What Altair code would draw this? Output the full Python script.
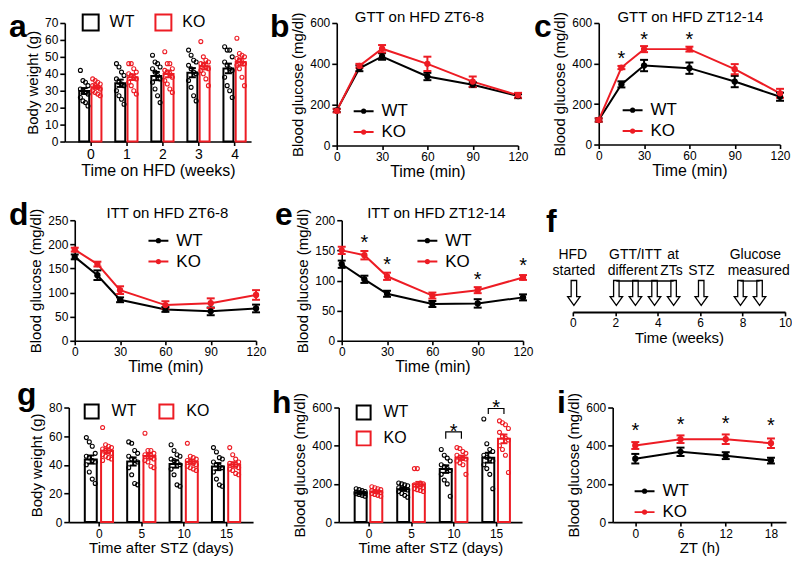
import altair as alt
import pandas as pd

FONT = "Liberation Sans"
RED = "#ed1c24"
GROUPS = ["WT", "KO"]
CAP = "M-1,0L1,0"
ARROW = "M-0.22,-1L0.22,-1L0.22,0.3L0.5,0.3L0,1L-0.5,0.3L-0.22,0.3Z"
LINE_SYMBOL = "M-1,0L1,0M-0.16,0A0.16,0.16,0,1,1,0.16,0A0.16,0.16,0,1,1,-0.16,0Z"

# ---------------- data ----------------
# a: body weight on HFD (g)
a_weeks = [0, 1, 2, 3, 4]
a_wt = [
    [42, 36, 35, 33, 31, 30, 29, 28, 26, 24, 23, 21],
    [46, 44, 41, 39, 37, 35, 34, 33, 30, 27, 25, 22],
    [51, 47, 46, 44, 43, 41, 39, 37, 35, 31, 27, 23],
    [54, 51, 48, 47, 45, 43, 41, 40, 36, 32, 27, 24],
    [56, 54, 54, 50, 47, 45, 43, 42, 38, 33, 30, 26],
]
a_ko = [
    [37, 36, 35, 34, 33, 33, 32, 31, 30, 29, 28, 27],
    [46, 46, 43, 41, 40, 39, 38, 37, 35, 33, 30, 28],
    [53, 46, 46, 43, 42, 41, 40, 38, 36, 34, 31, 29],
    [59, 50, 48, 47, 46, 45, 44, 43, 42, 40, 37, 33],
    [61, 52, 51, 50, 49, 48, 47, 46, 45, 43, 38, 33],
]

# b, c: GTT
gtt_time = [0, 15, 30, 60, 90, 120]
b_wt = [172, 378, 436, 338, 298, 242]
b_wt_se = [8, 14, 16, 18, 12, 10]
b_ko = [170, 390, 474, 400, 313, 246]
b_ko_se = [8, 10, 18, 35, 25, 12]

c_wt = [121, 297, 390, 377, 311, 236]
c_wt_se = [8, 15, 28, 28, 28, 20]
c_ko = [121, 380, 471, 471, 372, 253]
c_ko_se = [8, 8, 15, 12, 25, 22]
c_star_t = [15, 30, 60]
c_star_y = [423, 514, 514]

# d, e: ITT
itt_time = [0, 15, 30, 60, 90, 120]
d_wt = [174, 136, 85, 65, 61, 67]
d_wt_se = [5, 10, 5, 5, 8, 8]
d_ko = [189, 159, 105, 74, 78, 95]
d_ko_se = [4, 5, 8, 8, 10, 10]

e_wt = [127, 102, 78, 61, 62, 72]
e_wt_se = [6, 6, 5, 5, 7, 5]
e_ko = [150, 142, 107, 75, 84, 105]
e_ko_se = [6, 7, 6, 5, 5, 4]
e_star_t = [15, 30, 90, 120]
e_star_y = [162, 125, 100, 124]

# f: timeline (weeks)
f_arrow_weeks = [0.05, 2.05, 2.95, 3.85, 4.75, 6.05, 7.9, 8.8]
f_bracket_start = [2.05, 7.9]
f_bracket_end = [4.75, 8.8]
f_text = ["HFD", "started", "GTT/ITT", "at", "different", "ZTs", "STZ", "Glucose", "measured"]
f_text_week = [0.0, 0.05, 2.95, 4.72, 2.82, 4.65, 6.06, 8.6, 8.76]
f_text_line = [1, 2, 1, 1, 2, 2, 2, 1, 2]

# g: body weight after STZ (g)
stz_days = [0, 5, 10, 15]
g_wt = [
    [59, 56, 53, 48, 46, 45, 43, 42, 40, 35, 30, 27],
    [56, 55, 50, 48, 46, 44, 43, 42, 38, 33, 27, 26],
    [54, 50, 47, 46, 44, 43, 42, 40, 37, 33, 26, 25],
    [52, 49, 45, 44, 42, 40, 39, 38, 35, 30, 26, 25],
]
g_ko = [
    [66, 54, 53, 52, 51, 50, 49, 48, 47, 46, 45, 44, 43],
    [62, 50, 50, 48, 47, 46, 45, 44, 43, 42, 39, 38],
    [55, 46, 45, 44, 43, 42, 41, 40, 39, 38, 37, 36],
    [52, 47, 44, 42, 41, 40, 39, 38, 37, 36, 34, 33],
]

# h: blood glucose after STZ (mg/dl)
h_wt = [
    [175, 170, 165, 160, 158, 155, 152, 150, 148, 145, 140, 135],
    [205, 200, 195, 190, 180, 175, 172, 168, 160, 150, 140, 130],
    [380, 350, 335, 320, 300, 290, 280, 270, 250, 220, 200, 135],
    [540, 410, 380, 370, 350, 340, 330, 320, 300, 280, 250, 175],
]
h_ko = [
    [185, 180, 175, 170, 165, 160, 158, 155, 150, 145, 140, 135],
    [280, 280, 205, 200, 195, 190, 185, 180, 175, 170, 165, 160],
    [390, 385, 370, 360, 350, 340, 335, 330, 320, 310, 300, 250],
    [530, 520, 510, 490, 470, 450, 440, 430, 400, 380, 350, 260],
]
h_sig_day = [10, 15]
h_sig_top = [472, 595]
h_sig_bottom = [437, 566]
h_star_y = [470, 597]

# i: blood glucose across ZT
zt = [0, 6, 12, 18]
i_wt = [332, 368, 348, 322]
i_wt_se = [25, 22, 18, 15]
i_ko = [401, 434, 434, 413]
i_ko_se = [18, 20, 25, 25]
i_star_y = [476, 506, 514, 501]

cscale = alt.Scale(domain=GROUPS, range=["black", RED])


# ---------------- helpers ----------------
def anchor(w, h, L, R, T, B):
    return alt.Chart(pd.DataFrame({"k": [0]})).mark_rect(opacity=0).encode(
        x=alt.value(-L), x2=alt.value(w + R), y=alt.value(-T), y2=alt.value(h + B))


def spacer():
    return alt.Chart(pd.DataFrame({"k": [0]})).mark_rect(opacity=0).encode(
        x=alt.value(0), x2=alt.value(0), y=alt.value(0), y2=alt.value(1)
    ).properties(width=1, height=1)


def letter(ch, x, y):
    return alt.Chart(pd.DataFrame({"t": [ch]})).mark_text(
        font=FONT, fontSize=32, fontWeight="bold", align="left", baseline="alphabetic", color="black"
    ).encode(x=alt.value(x), y=alt.value(y), text="t:N")


def ptitle(txt, x, y):
    return alt.Chart(pd.DataFrame({"t": [txt]})).mark_text(
        font=FONT, fontSize=15, align="center", baseline="middle", color="black"
    ).encode(x=alt.value(x), y=alt.value(y), text="t:N")


def yaxis(title, values):
    return alt.Axis(title=title, values=values, tickCount=len(values) + 2, labelFontSize=12,
                    titleFontSize=15, tickSize=5, labelPadding=2, titlePadding=4, format="d",
                    labelOverlap=False)


def xaxis(title, values, lab=12, tsize=16, tpad=1):
    return alt.Axis(title=title, values=values, tickCount=len(values) + 2, labelFontSize=lab,
                    titleFontSize=tsize, tickSize=4, labelPadding=2, titlePadding=tpad,
                    labelAngle=0, format="d", labelOverlap=False)


def stars(xs, ys, xfield="time"):
    df = pd.DataFrame({xfield: xs, "sy": ys})
    return alt.Chart(df).mark_text(text="*", font=FONT, fontSize=20, color="black",
                                   baseline="middle", align="center").encode(
        x=f"{xfield}:Q", y="sy:Q")


def line_panel(times, wt, wt_se, ko, ko_se, xdom, xvals, ydom, yvals, xtitle, w, h,
               leg_x, leg_y, anch, let, ttl=None, extra=None, xt=(12, 16, 1)):
    rows = []
    for g, m, s in (("WT", wt, wt_se), ("KO", ko, ko_se)):
        for t, mv, sv in zip(times, m, s):
            rows.append({"time": t, "group": g, "mean": mv, "se": sv})
    df = pd.DataFrame(rows)
    base = alt.Chart(df).transform_calculate(lo="datum.mean - datum.se", hi="datum.mean + datum.se")
    col = alt.Color("group:N", scale=cscale)
    line = base.mark_line(strokeWidth=2).encode(
        x=alt.X("time:Q", scale=alt.Scale(domain=xdom, nice=False, zero=False),
                axis=xaxis(xtitle, xvals, *xt)),
        y=alt.Y("mean:Q", scale=alt.Scale(domain=ydom, nice=False, zero=False),
                axis=yaxis("Blood glucose (mg/dl)", yvals)),
        color=alt.Color("group:N", scale=cscale, legend=alt.Legend(
            orient="none", legendX=leg_x, legendY=leg_y, title=None, symbolType=LINE_SYMBOL,
            symbolSize=400, symbolStrokeWidth=2, labelFontSize=17, labelFont=FONT,
            labelOffset=7, rowPadding=2, labelColor="black")))
    err = base.mark_rule(strokeWidth=2).encode(x="time:Q", y="lo:Q", y2="hi:Q", color=col)
    caps = base.transform_fold(["lo", "hi"], as_=["k", "v"]).mark_point(
        shape=CAP, size=64, strokeWidth=2, filled=False, opacity=1).encode(x="time:Q", y="v:Q", color=col)
    pts = base.mark_point(filled=True, size=40, opacity=1).encode(x="time:Q", y="mean:Q", color=col)
    layers = [anchor(w, h, *anch), line, err, caps, pts, letter(*let)]
    if ttl:
        layers.append(ptitle(*ttl))
    if extra:
        layers += extra
    return alt.layer(*layers).properties(width=w, height=h)


def bar_panel(times, wt, ko, off, jit, bw, xdom, ydom, yvals, ytitle, xtitle, xt, w, h,
              leg, anch, let, extra_fn=None):
    rows = []
    for g, lists in (("WT", wt), ("KO", ko)):
        for t, vals in zip(times, lists):
            for i, v in enumerate(vals):
                rows.append({"time": t, "group": g, "value": v, "i": i})
    df = pd.DataFrame(rows)
    shift = f"(datum.group == 'WT' ? {-off} : {off})"
    col = alt.Color("group:N", scale=cscale, legend=None)
    stats = alt.Chart(df).transform_aggregate(
        m="mean(value)", se="stderr(value)", groupby=["time", "group"]
    ).transform_calculate(xp=f"datum.time + {shift}", lo="datum.m - datum.se", hi="datum.m + datum.se")
    bars = stats.mark_bar(orient="vertical", size=bw, fill="white", strokeWidth=2).encode(
        x=alt.X("xp:Q", scale=alt.Scale(domain=xdom, nice=False, zero=False), axis=xaxis(xtitle, times, *xt)),
        y=alt.Y("m:Q", scale=alt.Scale(domain=ydom, nice=False), stack=None, axis=yaxis(ytitle, yvals)),
        stroke=alt.Stroke("group:N", scale=cscale, legend=alt.Legend(**leg)))
    pts = alt.Chart(df).transform_calculate(
        xp=f"datum.time + {shift} + ((datum.i % 4) - 1.5) * {jit}"
    ).mark_point(size=16, strokeWidth=1.1, filled=False, opacity=1).encode(
        x="xp:Q", y="value:Q", color=col)
    err = stats.mark_rule(strokeWidth=2).encode(x="xp:Q", y="lo:Q", y2="hi:Q", color=col)
    caps = stats.transform_fold(["lo", "hi"], as_=["k", "v"]).mark_point(
        shape=CAP, size=49, strokeWidth=2, filled=False, opacity=1).encode(x="xp:Q", y="v:Q", color=col)
    layers = [anchor(w, h, *anch), bars, pts, err, caps, letter(*let)]
    if extra_fn:
        layers += extra_fn(off)
    return alt.layer(*layers).properties(width=w, height=h)


def bar_legend(x, y, size, offset, direction="horizontal", colpad=16, rowpad=4):
    return dict(orient="none", legendX=x, legendY=y, direction=direction, title=None,
                symbolType="square", symbolSize=size, symbolStrokeWidth=2, symbolFillColor="white",
                labelFontSize=16, labelFont=FONT, labelOffset=offset, columnPadding=colpad,
                rowPadding=rowpad, labelColor="black")


# ---------------- panels ----------------
# row 1 (shared plot top)
pa = bar_panel(a_weeks, a_wt, a_ko, 0.17, 0.07, 10, [-0.57, 4.32], [0, 70], list(range(0, 71, 10)),
               "Body weight (g)", "Time on HFD (weeks)", (14, 16, 1), 187, 119,
               bar_legend(17, -9.5, 256, 10, colpad=17), (56, 19, 14, 39), ("a", -56, 14))

pb = line_panel(gtt_time, b_wt, b_wt_se, b_ko, b_ko_se, [0, 120], [0, 30, 60, 90, 120],
                [0, 600], [0, 200, 400, 600], "Time (min)", 182, 123, 16, 77.5, (67, 16, 14, 35),
                ("b", -67, 14), ("GTT on HFD ZT6-8", 83, -6))

pc = line_panel(gtt_time, c_wt, c_wt_se, c_ko, c_ko_se, [0, 120], [0, 30, 60, 90, 120],
                [0, 600], [0, 200, 400, 600], "Time (min)", 182, 122, 23, 76.5, (65, 10, 14, 36),
                ("c", -65, 14), ("GTT on HFD ZT12-14", 92, -6), [stars(c_star_t, c_star_y)])

# row 2
pd_ = line_panel(itt_time, d_wt, d_wt_se, d_ko, d_ko_se, [0, 120], [0, 30, 60, 90, 120],
                 [0, 250], [0, 50, 100, 150, 200, 250], "Time (min)", 182, 121, 73, 9.5,
                 (66, 14, 40, 35), ("d", -66, 5), ("ITT on HFD ZT6-8", 93, -7))

pe = line_panel(itt_time, e_wt, e_wt_se, e_ko, e_ko_se, [0, 120], [0, 30, 60, 90, 120],
                [0, 200], [0, 50, 100, 150, 200], "Time (min)", 182, 121, 75, 9.5,
                (72, 11, 40, 35), ("e", -67, 5), ("ITT on HFD ZT12-14", 95, -7),
                [stars(e_star_t, e_star_y)])

# f: timeline schematic
fw, fh = 213, 92
fx = alt.Scale(domain=[0, 10], nice=False, zero=False)
fy = alt.Scale(domain=[0, 92], nice=False, zero=False)
f_vals = [0, 2, 4, 6, 8, 10]
f_axis = alt.Axis(values=f_vals, tickCount=len(f_vals) + 2, title="Time (weeks)", labelFontSize=12,
                  titleFontSize=15, tickSize=4, domainWidth=2, labelPadding=2, titlePadding=2,
                  format="d", labelOverlap=False)
f_arrows = alt.Chart(pd.DataFrame({"week": f_arrow_weeks})).transform_calculate(level="19").mark_point(
    shape=ARROW, size=625, filled=True, fill="white", stroke="black", strokeWidth=1.3, opacity=1
).encode(x=alt.X("week:Q", scale=fx, axis=f_axis), y=alt.Y("level:Q", scale=fy, axis=None))
f_br = alt.Chart(pd.DataFrame({"s": f_bracket_start, "e": f_bracket_end})).transform_calculate(
    level="31").mark_rule(color="black", strokeWidth=1.3).encode(x="s:Q", x2="e:Q", y="level:Q")
f_txt = alt.Chart(pd.DataFrame({"label": f_text, "week": f_text_week, "line": f_text_line})).transform_calculate(
    level="datum.line == 1 ? 57 : 41").mark_text(font=FONT, fontSize=14, color="black",
                                                  align="center", baseline="middle").encode(
    x="week:Q", y="level:Q", text="label:N")
pf = alt.layer(anchor(fw, fh, 39, 5, 40, 64), f_arrows, f_br, f_txt, letter("f", -27, 12)).properties(
    width=fw, height=fh)

# row 3
pg = bar_panel(stz_days, g_wt, g_ko, 0.96, 0.35, 12, [-2.97, 17.6], [0, 80], [0, 20, 40, 60, 80],
               "Body weight (g)", "Time after STZ (days)", (12, 15, 2), 185, 115,
               bar_legend(15, -4, 196, 12, colpad=19), (60, 17, 32, 35), ("g", -52, -3))


def h_extra(off):
    rows = []
    for k, (d, top, bot) in enumerate(zip(h_sig_day, h_sig_top, h_sig_bottom)):
        for s, (side, lev) in enumerate([(-1, bot), (-1, top), (1, top), (1, bot)]):
            rows.append({"b": k, "s": s, "time": d, "side": side, "y": lev})
    br = alt.Chart(pd.DataFrame(rows)).transform_calculate(
        xp=f"datum.time + datum.side * {off}").mark_line(color="black", strokeWidth=1.2).encode(
        x="xp:Q", y="y:Q", detail="b:N", order="s:O")
    return [br, stars(h_sig_day, h_star_y)]


ph = bar_panel(stz_days, h_wt, h_ko, 0.92, 0.35, 12, [-2.91, 17.46], [0, 600], [0, 200, 400, 600],
               "Blood glucose (mg/dl)", "Time after STZ (days)", (12, 15, 2), 184, 115,
               bar_legend(17, -3, 196, 12, direction="vertical", rowpad=4), (69, 12, 32, 35),
               ("h", -67, 5), h_extra)

pi = line_panel(zt, i_wt, i_wt_se, i_ko, i_ko_se, [-3, 20], [0, 6, 12, 18],
                [0, 600], [0, 200, 400, 600], "ZT (h)", 174, 115, 21, 73, (79, 4, 32, 35),
                ("i", -56, 5), None, [stars(zt, i_star_y)], xt=(12, 15, 2))


def row(*panels):
    return alt.hconcat(spacer(), *panels, spacing=0).resolve_scale(
        color="independent", stroke="independent").resolve_legend(
        color="independent", stroke="independent")


row1 = row(pa, pb, pc)
row2 = row(pd_, pe, pf)
row3 = row(pg, ph, pi)

chart = alt.vconcat(row1, row2, row3, spacing=0).resolve_scale(
    color="independent", stroke="independent").resolve_legend(
    color="independent", stroke="independent").properties(padding=0).configure_view(
    stroke=None
).configure_axis(
    domainColor="black", domainWidth=1.6, tickColor="black", tickWidth=1.6,
    labelColor="black", titleColor="black", grid=False, labelFont=FONT, titleFont=FONT,
    titleFontWeight="normal", labelFlush=False, labelOverlap=False
).configure_text(font=FONT)

chart.save("out.html", embed_options={"renderer": "svg", "actions": False})
